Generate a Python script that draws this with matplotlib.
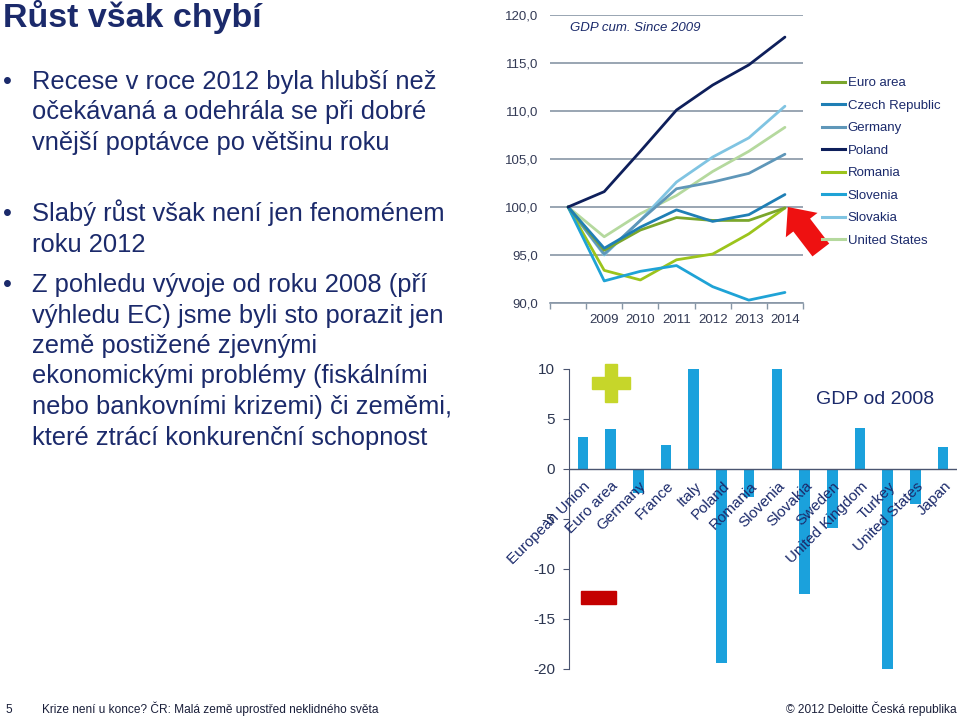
import numpy as np
import matplotlib
matplotlib.use('Agg')
import matplotlib.pyplot as plt
from matplotlib.patches import Rectangle
from matplotlib.lines import Line2D

plt.rcParams['font.family'] = ['Liberation Sans', 'DejaVu Sans']

# --- line chart data (GDP cum., 2008 = 100) ---
years = ['', '2009', '2010', '2011', '2012', '2013', '2014']
euro_area = [100, 95.5, 97.6, 98.9, 98.6, 98.6, 99.9]
czech_republic = [100, 95.7, 97.9, 99.7, 98.5, 99.2, 101.3]
germany = [100, 95.1, 98.6, 101.9, 102.6, 103.5, 105.5]
poland = [100, 101.6, 105.8, 110.1, 112.7, 114.8, 117.7]
romania = [100, 93.4, 92.4, 94.5, 95.1, 97.2, 99.9]
slovenia = [100, 92.3, 93.3, 93.9, 91.7, 90.3, 91.1]
slovakia = [100, 95.0, 98.6, 102.6, 105.2, 107.2, 110.5]
united_states = [100, 96.9, 99.3, 101.2, 103.7, 105.8, 108.3]

series = [
    ('Euro area', euro_area, '#7aa62c'),
    ('Czech Republic', czech_republic, '#1f7fb5'),
    ('Germany', germany, '#5f97b9'),
    ('Poland', poland, '#0e1f5b'),
    ('Romania', romania, '#9cc41c'),
    ('Slovenia', slovenia, '#1fa3d6'),
    ('Slovakia', slovakia, '#80c4e2'),
    ('United States', united_states, '#b5d99e'),
]
# draw order (back to front)
draw_order = ['United States', 'Slovakia', 'Germany', 'Romania', 'Slovenia',
              'Euro area', 'Czech Republic', 'Poland']

# --- bar chart data (GDP since 2008, %) ---
countries = ['European Union', 'Euro area', 'Germany', 'France', 'Italy', 'Poland',
             'Romania', 'Slovenia', 'Slovakia', 'Sweden', 'United Kingdom', 'Turkey',
             'United States', 'Japan']
gdp_since_2008 = [3.2, 4.0, -2.4, 2.4, 10.5, -19.4, -2.8, 10.5, -12.5, -5.9, 4.1,
                  -20.1, -3.5, 2.2]

navy = '#1b2a6b'
grid_col = '#8796a6'
W, H = 960, 719

fig = plt.figure(figsize=(9.6, 7.19), dpi=100)

# ---------------- slide text ----------------
fig.text(3 / W, 1 - 27 / H, 'Růst však chybí', fontsize=24.5, fontweight='bold',
         color=navy, va='baseline', ha='left')

bullets = [
    (89, ['Recese v roce 2012 byla hlubší než',
          'očekávaná a odehrála se při dobré',
          'vnější poptávce po většinu roku']),
    (221, ['Slabý růst však není jen fenoménem',
           'roku 2012']),
    (292, ['Z pohledu vývoje od roku 2008 (pří',
           'výhledu EC) jsme byli sto porazit jen',
           'země postižené zjevnými',
           'ekonomickými problémy (fiskálními',
           'nebo bankovními krizemi) či zeměmi,',
           'které ztrácí konkurenční schopnost']),
]
line_step = 30.5
for y0, lines in bullets:
    fig.text(3 / W, 1 - y0 / H, '•', fontsize=18.4, color=navy, va='baseline')
    for k, s in enumerate(lines):
        fig.text(32 / W, 1 - (y0 + k * line_step) / H, s, fontsize=18.4,
                 color=navy, va='baseline', ha='left')

# footer
fig.text(5 / W, 1 - 713 / H, '5', fontsize=8.6, color='#1a1f3a', va='baseline')
fig.text(42 / W, 1 - 713 / H, 'Krize není u konce? ČR: Malá země uprostřed neklidného světa',
         fontsize=8.6, color='#1a1f3a', va='baseline')
fig.text(957 / W, 1 - 713 / H, '© 2012 Deloitte Česká republika', fontsize=8.6,
         color='#1a1f3a', va='baseline', ha='right')

# ---------------- line chart ----------------
ax1 = fig.add_axes([550 / W, 1 - 303 / H, 253 / W, 288 / H])
x = np.arange(len(years))
lookup = {name: (vals, col) for name, vals, col in series}
for name in draw_order:
    vals, col = lookup[name]
    ax1.plot(x, vals, color=col, lw=2.0, solid_capstyle='round', zorder=3)

ax1.set_xlim(-0.5, 6.5)
ax1.set_ylim(90, 120)
yt = np.arange(90, 121, 5)
ax1.set_yticks(yt)
ax1.set_yticklabels([f'{v:.1f}'.replace('.', ',') for v in yt], fontsize=9.5,
                    color='#333a55')
ax1.yaxis.grid(True, color=grid_col, lw=1.2, zorder=1)
ax1.set_axisbelow(True)
ax1.tick_params(axis='y', length=0, pad=8.5)
ax1.set_xticks(x)
ax1.set_xticklabels(years, fontsize=9.5, color='#333a55')
ax1.set_xticks(np.arange(-0.5, 7, 1), minor=True)
ax1.tick_params(axis='x', which='major', length=0, pad=8)
ax1.tick_params(axis='x', which='minor', length=4, color=grid_col, width=1)
for side in ['top', 'right', 'left']:
    ax1.spines[side].set_visible(False)
ax1.spines['bottom'].set_color(grid_col)
ax1.spines['bottom'].set_linewidth(1.2)
ax1.text(0.08, 0.955, 'GDP cum. Since 2009', transform=ax1.transAxes, fontsize=9.5,
         style='italic', color=navy, va='center', ha='left')

ax1.annotate('', xy=(6.08, 100), xytext=(33, -43), textcoords='offset pixels',
             arrowprops=dict(arrowstyle='simple,head_length=0.82,head_width=1.44,tail_width=0.76',
                             mutation_scale=20, color='#ee1111', shrinkA=0, shrinkB=0,
                             lw=0),
             annotation_clip=False, zorder=5)

handles = [Line2D([], [], color=col, lw=2.2) for _, _, col in series]
fig.legend(handles, [n for n, _, _ in series], loc='upper left',
           bbox_to_anchor=(822 / W, 1 - 77 / H), frameon=False, fontsize=9.5,
           handlelength=1.75, handletextpad=0.2, labelspacing=0.78, borderpad=0,
           borderaxespad=0, labelcolor=navy)

# ---------------- bar chart ----------------
ax2 = fig.add_axes([569 / W, 1 - 669 / H, 388 / W, 300 / H])
xb = np.arange(len(countries))
ax2.bar(xb, gdp_since_2008, width=0.38, color='#1ba1dc', zorder=2)
ax2.set_xlim(-0.5, len(countries) - 0.5)
ax2.set_ylim(-20, 10)
ax2.set_yticks(np.arange(-20, 11, 5))
ax2.set_yticklabels([str(v) for v in np.arange(-20, 11, 5)], fontsize=11, color='#2b3550')
ax2.tick_params(axis='y', length=4, color='#4a5570', pad=6)
ax2.set_xticks([])
for side in ['top', 'right', 'bottom']:
    ax2.spines[side].set_visible(False)
ax2.spines['left'].set_color('#4a5570')
ax2.axhline(0, color='#4a5570', lw=1, zorder=3)
for i, name in enumerate(countries):
    ax2.text(i + 0.2, -1.5, name, rotation=45, rotation_mode='anchor', ha='right',
             va='center', fontsize=11, color=navy, zorder=4)
ax2.text(875 / W, 1 - 400 / H, 'GDP od 2008', transform=fig.transFigure, fontsize=14,
         color=navy, ha='center', va='center')

# plus / minus markers
plus_col = '#c6d62a'
fig.patches.append(Rectangle((592 / W, 1 - 389 / H), 38 / W, 12 / H,
                             transform=fig.transFigure, color=plus_col, zorder=5))
fig.patches.append(Rectangle((605 / W, 1 - 402 / H), 12 / W, 38 / H,
                             transform=fig.transFigure, color=plus_col, zorder=5))
fig.patches.append(Rectangle((581 / W, 1 - 604 / H), 35 / W, 13 / H,
                             transform=fig.transFigure, color='#c40000', zorder=5))

fig.savefig('out.png', dpi=100)
